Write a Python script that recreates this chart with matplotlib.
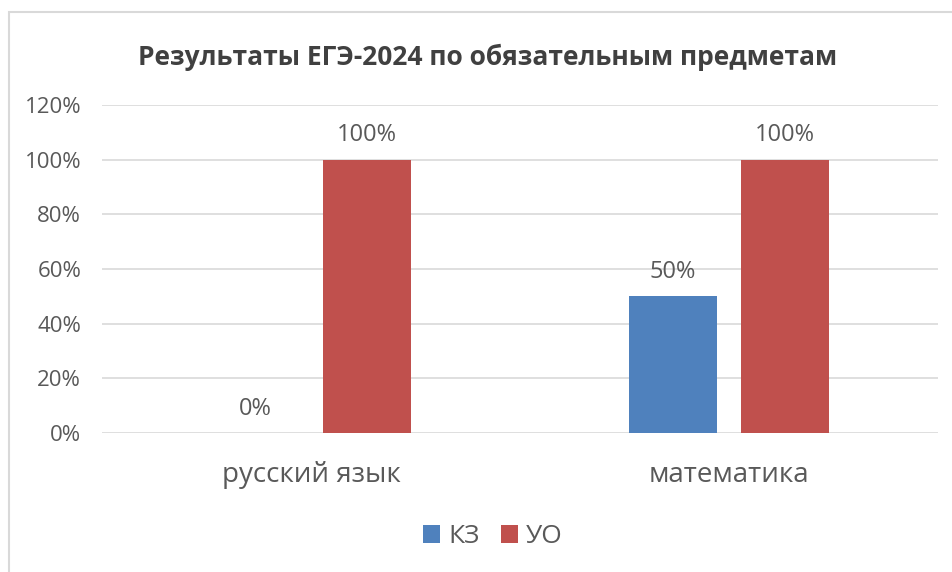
import numpy as np
import matplotlib.pyplot as plt
from matplotlib.patches import Rectangle

# Data
categories = ['русский язык', 'математика']
series_names = ['КЗ', 'УО']
kz = [0, 50]
uo = [100, 100]
yticks = [0, 20, 40, 60, 80, 100, 120]

blue = '#4F81BD'
red = '#C0504D'
txt = '#595959'

plt.rcParams['font.family'] = ['Open Sans', 'DejaVu Sans']

fig = plt.figure(figsize=(9.53, 5.72), dpi=100)
ax = fig.add_axes([0.107, 0.243, 0.877, 0.5734])

x = np.arange(len(categories))
w = 0.21
off = 0.134
b1 = ax.bar(x - off, kz, w, color=blue, label=series_names[0], zorder=3)
b2 = ax.bar(x + off, uo, w, color=red, label=series_names[1], zorder=3)

for bars, vals in ((b1, kz), (b2, uo)):
    for rect, v in zip(bars, vals):
        ax.text(rect.get_x() + rect.get_width() / 2, v + 4.5, f'{v}%',
                ha='center', va='bottom', fontsize=17, color=txt)

ax.set_xlim(-0.5, 1.5)
ax.set_ylim(0, 120)
ax.set_yticks(yticks)
ax.set_yticklabels([f'{t}%' for t in yticks], fontsize=16, color=txt)
ax.set_xticks(x)
ax.set_xticklabels(categories, fontsize=20, color=txt)
ax.tick_params(length=0)
ax.tick_params(axis='y', pad=15)
ax.tick_params(axis='x', pad=20)
ax.grid(axis='y', color='#D9D9D9', linewidth=1.2, zorder=0)
for s in ax.spines.values():
    s.set_visible(False)

fig.text(0.5116, 0.9, 'Результаты ЕГЭ-2024 по обязательным предметам',
         ha='center', va='center', fontsize=19, fontweight='bold', color='#404040')

leg = fig.legend(handles=[b1, b2], loc='center', bbox_to_anchor=(0.517, 0.062),
                 ncol=2, frameon=False, fontsize=19, handlelength=0.65,
                 handleheight=0.65, handletextpad=0.3, columnspacing=0.8)
for t in leg.get_texts():
    t.set_color(txt)

# chart border
fig.patches.append(Rectangle((9 / 953, -0.1), 2, 1 - 12 / 572 + 0.1,
                             transform=fig.transFigure, fill=False,
                             edgecolor='#D9D9D9', linewidth=1.5))

fig.savefig('out.png', dpi=100)
